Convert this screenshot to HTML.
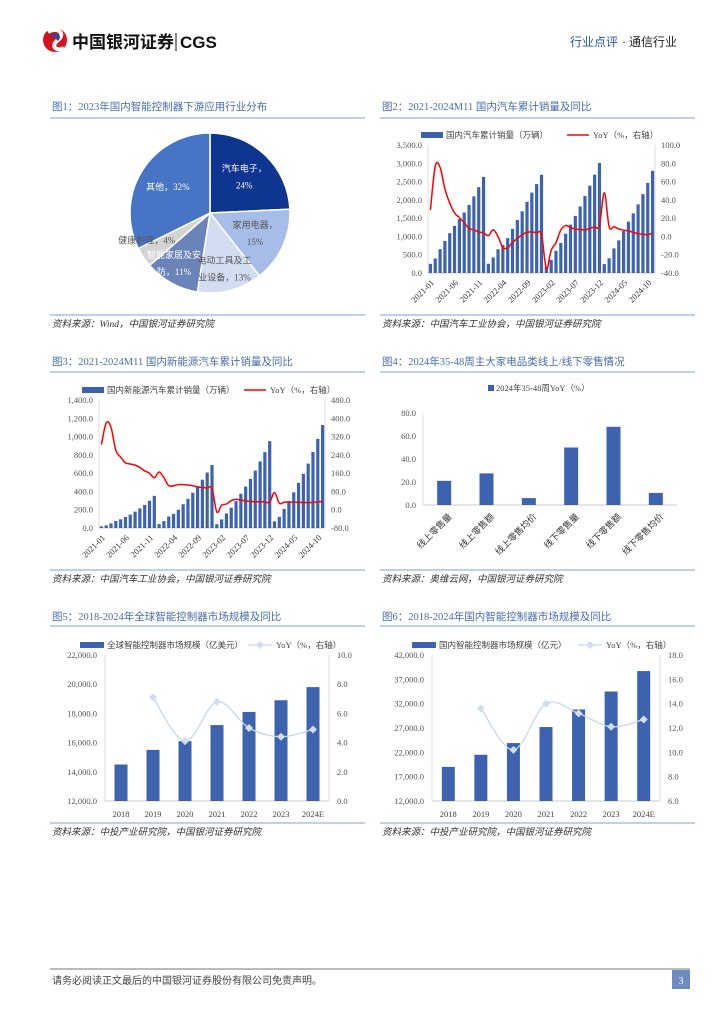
<!DOCTYPE html>
<html><head><meta charset="utf-8">
<style>
html,body{margin:0;padding:0;background:#fff;}
svg text{font-family:"Liberation Serif","Noto Sans CJK SC",serif;}
svg text.sans{font-family:"Liberation Sans","Noto Sans CJK SC",sans-serif;}
</style></head>
<body>
<svg id="page" width="724" height="1024" viewBox="0 0 724 1024" xmlns="http://www.w3.org/2000/svg">
<g>
  <g>
    <circle cx="55" cy="40" r="12" fill="#d7141c"/>
    <path d="M48,32 C58,26 66,34 58,40 C50,46 56,52 64,48" stroke="#fff" stroke-width="4" fill="none"/>
    <path d="M51,36 C56,33 61,36 57,40" stroke="#1f4aa0" stroke-width="3" fill="none"/>
  </g>
  <text class="sans" x="72" y="48" font-size="17" font-weight="bold" fill="#111">中国银河证券</text>
  <line x1="176" y1="33" x2="176" y2="51" stroke="#111" stroke-width="1"/>
  <text class="sans" x="180" y="48" font-size="17" font-weight="bold" fill="#111">CGS</text>
  <text x="570" y="46" font-size="12" fill="#2c55a0">行业点评</text>
  <text x="622" y="46" font-size="12" fill="#222">· 通信行业</text>
</g>
<g id="panels"></g>
<g>
  <line x1="50" y1="969" x2="690" y2="969" stroke="#777" stroke-width="1"/>
  <text x="52" y="984" font-size="10" fill="#444">请务必阅读正文最后的中国银河证券股份有限公司免责声明。</text>
  <rect x="672" y="970" width="18" height="19" fill="#6f8bc2"/>
  <text x="681" y="984" font-size="10" fill="#fff" text-anchor="middle">3</text>
</g>
</svg>
<script>
// ---------- data ----------
const pieLabels = ["汽车电子","家用电器","电动工具及工业设备","智能家居及安防","健康护理","其他"];
const pieValues = [24,15,13,11,4,32];

const autoMonths = ["2021-01","2021-06","2021-11","2022-04","2022-09","2023-02","2023-07","2023-12","2024-05","2024-10"];
const autoSales = [250,398,651,877,1090,1289,1475,1655,1862,2095,2348,2628,
 253,426,650,768,955,1206,1448,1686,1947,2198,2431,2686,
 164,361,607,822,1074,1323,1561,1819,2104,2389,2686,3009,
 244,402,673,893,1148,1405,1631,1876,2157,2462,2794];
const autoYoY = [29,76.8,75.6,51.8,36.6,25.6,20.6,14.9,8.7,7.2,4.9,3.8,
 0.9,7.3,-0.2,-12.1,-12.3,-6.6,-2.2,1.9,4.6,4.8,3.9,2.1,
 -35,-15.2,-6.7,7.1,11.9,9.8,7.8,7.7,7.1,8.8,10.4,12,
 47.9,10.7,10.6,8.2,6.9,6.1,4.4,3.0,2.4,1.9,3.5];
const autoLeftTicks = [0,500,1000,1500,2000,2500,3000,3500];
const autoRightTicks = [-40,-20,0,20,40,60,80,100];

const nevSales = [18,29,50,77,95,120,147,179,214,252,297,352,
 43,76,126,154,200,260,319,386,456,528,607,689,
 41,94,159,222,294,375,453,537,628,728,830,950,
 73,121,209,294,390,494,593,704,832,975,1126];
const nevYoY = [285,380,360,260,230,205,200,195,185,170,160,140,
 165,140,105,105,110,110,108,105,100,97,95,93,
 -10,20,25,40,45,42,38,36,35,35,34,33,
 75,28,33,33,33,32,32,31,32,34,36];
const nevLeftTicks = [0,200,400,600,800,1000,1200,1400];
const nevRightTicks = [-80,0,80,160,240,320,400,480];

const retailCats = ["线上零售量","线上零售额","线上零售均价","线下零售量","线下零售额","线下零售均价"];
const retailYoY = [21,27.5,6,50,68,10.5];
const retailTicks = [0,20,40,60,80];

const years = ["2018","2019","2020","2021","2022","2023","2024E"];
const globalMarket = [14500,15500,16100,17200,18100,18900,19800];
const globalYoY = [null,7.1,4.1,6.8,5.0,4.4,4.9];
const globalLeftTicks = [12000,14000,16000,18000,20000,22000];
const globalRightTicks = [0,2,4,6,8,10];

const domesticMarket = [19000,21500,23900,27200,30800,34500,38700];
const domesticYoY = [null,13.6,10.2,14.0,13.2,12.1,12.7];
const domesticLeftTicks = [12000,17000,22000,27000,32000,37000,42000];
const domesticRightTicks = [6,8,10,12,14,16,18];

// ---------- helpers ----------
const NS="http://www.w3.org/2000/svg";
const root=document.getElementById('panels');
function el(tag,attrs,parent,txt){const e=document.createElementNS(NS,tag);for(const k in attrs)e.setAttribute(k,attrs[k]);if(txt!==undefined)e.textContent=txt;(parent||root).appendChild(e);return e;}
function fmt(v){return v.toLocaleString('en-US',{minimumFractionDigits:1,maximumFractionDigits:1});}
function smooth(pts){if(pts.length<2)return '';let d='M'+pts[0][0]+','+pts[0][1];for(let i=0;i<pts.length-1;i++){const p0=pts[i-1]||pts[i],p1=pts[i],p2=pts[i+1],p3=pts[i+2]||p2;const c1x=p1[0]+(p2[0]-p0[0])/6,c1y=p1[1]+(p2[1]-p0[1])/6,c2x=p2[0]-(p3[0]-p1[0])/6,c2y=p2[1]-(p3[1]-p1[1])/6;d+=` C${c1x},${c1y} ${c2x},${c2y} ${p2[0]},${p2[1]}`;}return d;}
const TC="#4a6db0", BAR="#3d63b0";

function panel(x,titleY,lineY,srcY,title,src,name){
  const g=el('g',{});
  
  
  const t=el('text',{x:x+2,y:titleY,'font-size':10.5,fill:TC},g,title);
  
  
  el('line',{x1:x,y1:lineY,x2:x+315,y2:lineY,stroke:'#9fb2d8','stroke-width':1.2},g);
  el('line',{x1:x,y1:srcY,x2:x+315,y2:srcY,stroke:'#9fb2d8','stroke-width':1.2},g);
  const s=el('text',{x:x+2,y:srcY+12,'font-size':9.5,fill:'#333','font-style':'italic'},g,src);
  
  
  return g;
}

// ---------- Chart 1: pie ----------
(function(){
  const g=panel(50,110,118,315,"图1：2023年国内智能控制器下游应用行业分布","资料来源：Wind，中国银河证券研究院","figure-1-pie");
  const cx=210,cy=213,r=80;
  const colors=["#0e3590","#a7bce6","#d3ddf1","#6a83b8","#d4d4d4","#4874c6"];
  const total=pieValues.reduce((a,b)=>a+b,0);
  let a0=-Math.PI/2;
  pieValues.forEach((v,i)=>{
    const a1=a0+v/total*2*Math.PI;
    const big=(a1-a0)>Math.PI?1:0;
    const p=el('path',{d:`M${cx},${cy} L${cx+r*Math.cos(a0)},${cy+r*Math.sin(a0)} A${r},${r} 0 ${big} 1 ${cx+r*Math.cos(a1)},${cy+r*Math.sin(a1)} Z`,fill:colors[i],stroke:'#fff','stroke-width':1.5},g);
    
    
    a0=a1;
  });
  a0=-Math.PI/2;
  pieValues.forEach((v,i)=>{
    const a1=a0+v/total*2*Math.PI, am=(a0+a1)/2;
    const long=pieLabels[i].length>5;
    const lr=r*(long?0.72:0.62);
    let lx=cx+lr*Math.cos(am), ly=cy+lr*Math.sin(am);
    const fc=(i===0||i===5||i===3)?'#fff':'#555';
    const name=pieLabels[i];
    let lines;
    if(v<6){lines=[name+'，'+v+'%'];lx-=22;}
    else if(long){lines=[name.slice(0,6),name.slice(6)+'，'+v+'%'];if(am>Math.PI/2)lx-=8;}
    else if(v>30) lines=[name+'，'+v+'%'];
    else lines=[name+'，',v+'%'];
    lines.forEach((s,k)=>{
      const t=el('text',{x:lx,y:ly+3+(k-(lines.length-1)/2)*17,'font-size':9,fill:fc,'text-anchor':'middle'},g,s);
      
      
    });
    a0=a1;
  });
})();

// ---------- combo bar+line chart (monthly) ----------
function monthly(g,opts){
  const {x0,x1,y0,y1,lMin,lMax,rMin,rMax,lt,rt,bars,line,cats,legendY,leg1,leg2,leg1x,leg2x}=opts;
  const ly=v=>y0-(v-lMin)/(lMax-lMin)*(y0-y1);
  const ry=v=>y0-(v-rMin)/(rMax-rMin)*(y0-y1);
  const n=bars.length, slot=(x1-x0)/n;
  const xc=i=>x0+slot*(i+0.5);
  el('line',{x1:x0,y1:y1,x2:x0,y2:y0,stroke:'#ddd'},g);
  el('line',{x1:x1,y1:y1,x2:x1,y2:y0,stroke:'#ddd'},g);
  el('line',{x1:x0,y1:y0,x2:x1,y2:y0,stroke:'#ccc'},g);
  lt.forEach(v=>{const t=el('text',{x:x0-6,y:ly(v)+3,'font-size':8.5,fill:'#555','text-anchor':'end'},g,fmt(v));});
  rt.forEach(v=>{const t=el('text',{x:x1+6,y:ry(v)+3,'font-size':8.5,fill:'#555'},g,fmt(v));});
  bars.forEach((v,i)=>{const r=el('rect',{x:xc(i)-1.6,y:ly(v),width:3.2,height:y0-ly(v),fill:BAR},g);});
  const p=el('path',{d:smooth(line.map((v,i)=>[xc(i),ry(v)])),fill:'none',stroke:'#ff0000','stroke-width':1.5},g);
  
  
  cats.forEach((c,k)=>{const i=k*5;const x=xc(i),y=y0+6;const t=el('text',{x:x,y:y,'font-size':8.5,fill:'#333','text-anchor':'end',transform:`rotate(-45 ${x} ${y})`,dy:'6'},g,c);});
  el('rect',{x:leg1x,y:legendY-6,width:22,height:6,fill:BAR},g);
  let t=el('text',{x:leg1x+25,y:legendY,'font-size':8.5,fill:'#444'},g,leg1);
  el('line',{x1:leg2x,y1:legendY-3,x2:leg2x+22,y2:legendY-3,stroke:'#f00','stroke-width':1.5},g);
  t=el('text',{x:leg2x+26,y:legendY,'font-size':8.5,fill:'#444'},g,leg2);
}
(function(){
  const g=panel(380,110,118,315,"图2：2021-2024M11 国内汽车累计销量及同比","资料来源：中国汽车工业协会，中国银河证券研究院","figure-2-auto-sales");
  monthly(g,{x0:428,x1:655,y0:273,y1:145,lMin:0,lMax:3500,rMin:-40,rMax:100,lt:autoLeftTicks,rt:autoRightTicks,bars:autoSales,line:autoYoY,cats:autoMonths,legendY:138,leg1:"国内汽车累计销量（万辆）",leg2:"YoY（%，右轴）",leg1x:421,leg2x:567});
})();
(function(){
  const g=panel(50,365,372,570,"图3：2021-2024M11 国内新能源汽车累计销量及同比","资料来源：中国汽车工业协会，中国银河证券研究院","figure-3-nev-sales");
  monthly(g,{x0:99,x1:325,y0:528,y1:400,lMin:0,lMax:1400,rMin:-80,rMax:480,lt:nevLeftTicks,rt:nevRightTicks,bars:nevSales,line:nevYoY,cats:autoMonths,legendY:393,leg1:"国内新能源汽车累计销量（万辆）",leg2:"YoY（%，右轴）",leg1x:82,leg2x:244});
})();

// ---------- Chart 4 ----------
(function(){
  const g=panel(380,365,372,570,"图4：2024年35-48周主大家电品类线上/线下零售情况","资料来源：奥维云网，中国银河证券研究院","figure-4-retail");
  const x0=423,x1=677,y0=505,y1=413,max=80;
  const y=v=>y0-v/max*(y0-y1);
  const slot=(x1-x0)/retailCats.length;
  el('line',{x1:x0,y1:y1,x2:x0,y2:y0,stroke:'#ddd'},g);
  el('line',{x1:x0,y1:y0,x2:x1,y2:y0,stroke:'#ccc'},g);
  retailTicks.forEach(v=>{const t=el('text',{x:x0-7,y:y(v)+3,'font-size':8.5,fill:'#555','text-anchor':'end'},g,fmt(v));});
  retailYoY.forEach((v,i)=>{const cx=x0+slot*(i+0.5);const r=el('rect',{x:cx-7,y:y(v),width:14,height:y0-y(v),fill:BAR},g);
    const ty=y0+8;const t=el('text',{x:cx+4,y:ty,'font-size':9,fill:'#333','text-anchor':'end',transform:`rotate(-45 ${cx+4} ${ty})`,dy:'6'},g,retailCats[i]);});
  el('rect',{x:488,y:385,width:6,height:6,fill:BAR},g);
  const t=el('text',{x:496,y:391,'font-size':8.5,fill:'#444'},g,"2024年35-48周YoY（%）");
})();

// ---------- Chart 5/6 ----------
function annual(g,o){
  const {x0,x1,y0,y1,lt,rt,bars,line,legendY,leg1,leg2,leg1x,leg2x}=o;
  const lMin=lt[0],lMax=lt[lt.length-1],rMin=rt[0],rMax=rt[rt.length-1];
  const ly=v=>y0-(v-lMin)/(lMax-lMin)*(y0-y1);
  const ry=v=>y0-(v-rMin)/(rMax-rMin)*(y0-y1);
  const slot=(x1-x0)/years.length;
  const xc=i=>x0+slot*(i+0.5);
  el('line',{x1:x0,y1:y1,x2:x0,y2:y0,stroke:'#ddd'},g);
  el('line',{x1:x1,y1:y1,x2:x1,y2:y0,stroke:'#ddd'},g);
  el('line',{x1:x0,y1:y0,x2:x1,y2:y0,stroke:'#ccc'},g);
  lt.forEach(v=>{const t=el('text',{x:x0-8,y:ly(v)+3,'font-size':8.5,fill:'#555','text-anchor':'end'},g,fmt(v));});
  rt.forEach(v=>{const t=el('text',{x:x1+8,y:ry(v)+3,'font-size':8.5,fill:'#555'},g,fmt(v));});
  bars.forEach((v,i)=>{const r=el('rect',{x:xc(i)-6.5,y:ly(v),width:13,height:y0-ly(v),fill:BAR},g);
    const t=el('text',{x:xc(i),y:y0+16,'font-size':8.5,fill:'#444','text-anchor':'middle'},g,years[i]);});
  const pts=[];line.forEach((v,i)=>{if(v!==null)pts.push([xc(i),ry(v)]);});
  const p=el('path',{d:smooth(pts),fill:'none',stroke:'#c9d6ee','stroke-width':1.3},g);
  
  pts.forEach(q=>{const m=el('path',{d:`M${q[0]},${q[1]-4} L${q[0]+4},${q[1]} L${q[0]},${q[1]+4} L${q[0]-4},${q[1]} Z`,fill:'#d2ddf1'},g);});
  el('rect',{x:leg1x,y:legendY-6,width:24,height:6,fill:BAR},g);
  let t=el('text',{x:leg1x+27,y:legendY,'font-size':8.5,fill:'#444'},g,leg1);
  el('line',{x1:leg2x,y1:legendY-3,x2:leg2x+24,y2:legendY-3,stroke:'#c9d6ee','stroke-width':1.3},g);
  el('path',{d:`M${leg2x+12},${legendY-7} l4,4 l-4,4 l-4,-4 Z`,fill:'#d2ddf1'},g);
  t=el('text',{x:leg2x+28,y:legendY,'font-size':8.5,fill:'#444'},g,leg2);
}
(function(){
  const g=panel(50,620,626,823,"图5：2018-2024年全球智能控制器市场规模及同比","资料来源：中投产业研究院，中国银河证券研究院","figure-5-global-market");
  annual(g,{x0:105,x1:329,y0:801,y1:655,lt:globalLeftTicks,rt:globalRightTicks,bars:globalMarket,line:globalYoY,legendY:648,leg1:"全球智能控制器市场规模（亿美元）",leg2:"YoY（%，右轴）",leg1x:80,leg2x:248});
})();
(function(){
  const g=panel(380,620,626,823,"图6：2018-2024年国内智能控制器市场规模及同比","资料来源：中投产业研究院，中国银河证券研究院","figure-6-domestic-market");
  annual(g,{x0:432,x1:660,y0:801,y1:655,lt:domesticLeftTicks,rt:domesticRightTicks,bars:domesticMarket,line:domesticYoY,legendY:648,leg1:"国内智能控制器市场规模（亿元）",leg2:"YoY（%，右轴）",leg1x:412,leg2x:578});
})();
</script>
</body></html>
